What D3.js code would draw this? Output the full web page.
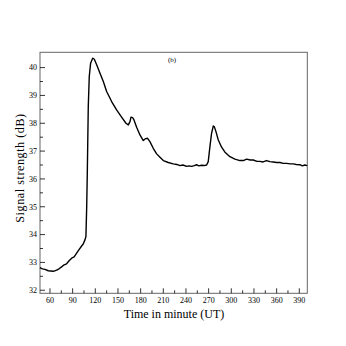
<!DOCTYPE html>
<html>
<head>
<meta charset="utf-8">
<script src="https://cdn.jsdelivr.net/npm/d3@7"></script>
<style>
  body { margin: 0; background: #fff; }
  svg { display: block; }
  text { font-family: "Liberation Serif", "Times New Roman", serif; fill: #000; }
  .tick-label { font-size: 8px; }
  .axis-title { font-size: 12px; }
</style>
</head>
<body>
<svg></svg>
<script>
// time in minutes (UT) and signal strength (dB)
var times = [46.8, 50, 53.4, 57.8, 61, 64.4, 68.8, 72, 75.4, 78, 82, 85, 88.7, 92, 95.3, 98, 101.9, 104, 106.3, 107.6,
  108.6, 109.4, 110.1, 110.7, 112, 113.8, 116.5, 118.7, 121.8, 126.2, 130.6, 135, 141.6, 148.2, 154.8, 160.6, 163.7,
  165.9, 167.2, 169.4, 171.2, 174.7, 179.1, 183.5, 186.6, 189.2, 192.3, 196.7, 201.2, 205.6, 210, 216.6, 223.2, 228,
  232, 236, 240.9, 244, 247.5, 251, 254.1, 257, 260.7, 264, 267.3, 269.5, 271.7, 273.9, 276.1, 277.5, 279.7, 282.8,
  287.2, 291.6, 298.2, 304.8, 311.4, 316, 320.3, 325, 329.1, 334, 337.9, 342, 346.7, 351, 355.5, 360, 364.4, 369,
  373.2, 378, 382, 386, 390.8, 394, 397.4, 400.5];
var signal = [32.81, 32.77, 32.75, 32.7, 32.69, 32.68, 32.72, 32.77, 32.84, 32.9, 32.95, 33.05, 33.15, 33.2, 33.33, 33.44,
  33.59, 33.66, 33.81, 33.93,
  35.0, 36.2, 37.5, 38.6, 39.68, 40.16, 40.34, 40.3, 40.1, 39.8, 39.5, 39.14, 38.78, 38.48, 38.22, 38.0, 37.94,
  38.06, 38.22, 38.2, 38.12, 37.86, 37.58, 37.38, 37.45, 37.46, 37.34, 37.1, 36.9, 36.78, 36.66, 36.59, 36.54, 36.52,
  36.48, 36.5, 36.45, 36.47, 36.45, 36.48, 36.51, 36.47, 36.49, 36.48, 36.5, 36.62, 37.16, 37.64, 37.9, 37.88, 37.7, 37.4,
  37.14, 36.96, 36.8, 36.71, 36.66, 36.66, 36.71, 36.68, 36.68, 36.63, 36.63, 36.61, 36.66, 36.62, 36.61, 36.59, 36.59, 36.56,
  36.56, 36.54, 36.54, 36.52, 36.51, 36.47, 36.5, 36.48];
var xTicks = [60, 90, 120, 150, 180, 210, 240, 270, 300, 330, 360, 390];
var yTicks = [32, 33, 34, 35, 36, 37, 38, 39, 40];
var panelLabel = "(b)";
var xTitle = "Time in minute (UT)";
var yTitle = "Signal strength (dB)";

var svgWidth = 346, svgHeight = 346;
var plot = {left: 40, top: 52.3, right: 307.3, bottom: 293.3};

var svg = d3.select("svg").attr("width", svgWidth).attr("height", svgHeight);

var x = d3.scaleLinear().domain([46.8, 400.6]).range([plot.left, plot.right]);
var y = d3.scaleLinear().domain([31.89, 40.55]).range([plot.bottom, plot.top]);

// frame
svg.append("rect")
    .attr("x", plot.left).attr("y", plot.top)
    .attr("width", plot.right - plot.left).attr("height", plot.bottom - plot.top)
    .attr("fill", "none").attr("stroke", "#666").attr("stroke-width", 1);

// bottom axis, ticks pointing in
var xMinor = d3.range(75, 400, 30);
var xAxis = svg.append("g").attr("transform", "translate(0," + plot.bottom + ")");
xAxis.selectAll(".maj").data(xTicks).enter().append("line")
    .attr("x1", x).attr("x2", x).attr("y1", 0).attr("y2", -5)
    .attr("stroke", "#000").attr("stroke-width", 0.8);
xAxis.selectAll(".min").data(xMinor).enter().append("line")
    .attr("x1", x).attr("x2", x).attr("y1", 0).attr("y2", -3)
    .attr("stroke", "#000").attr("stroke-width", 0.8);
xAxis.selectAll("text").data(xTicks).enter().append("text")
    .attr("class", "tick-label")
    .attr("x", x).attr("y", 9.5)
    .attr("text-anchor", "middle")
    .text(function(d) { return d; });

// left axis
var yMinor = d3.range(32.5, 40.5, 1);
var yAxis = svg.append("g").attr("transform", "translate(" + plot.left + ",0)");
yAxis.selectAll(".maj").data(yTicks).enter().append("line")
    .attr("y1", y).attr("y2", y).attr("x1", 0).attr("x2", 5)
    .attr("stroke", "#000").attr("stroke-width", 0.8);
yAxis.selectAll(".min").data(yMinor).enter().append("line")
    .attr("y1", y).attr("y2", y).attr("x1", 0).attr("x2", 3)
    .attr("stroke", "#000").attr("stroke-width", 0.8);
yAxis.selectAll("text").data(yTicks).enter().append("text")
    .attr("class", "tick-label")
    .attr("x", -3).attr("y", function(d) { return y(d) + 2.8; })
    .attr("text-anchor", "end")
    .text(function(d) { return d; });

// signal line
var pts = times.map(function(t, i) { return [t, signal[i]]; });
var line = d3.line().x(function(d) { return x(d[0]); }).y(function(d) { return y(d[1]); });
svg.append("path")
    .datum(pts)
    .attr("d", line)
    .attr("fill", "none")
    .attr("stroke", "#000")
    .attr("stroke-width", 1.4)
    .attr("stroke-linejoin", "round");

// titles
svg.append("text")
    .attr("class", "axis-title")
    .attr("x", 174).attr("y", 318)
    .attr("text-anchor", "middle")
    .text(xTitle);
svg.append("text")
    .attr("class", "axis-title")
    .attr("transform", "translate(" + [23.5, 168] + ") rotate(-90)")
    .attr("text-anchor", "middle")
    .style("letter-spacing", "0.6px")
    .text(yTitle);
svg.append("text")
    .attr("x", 172).attr("y", 62)
    .attr("text-anchor", "middle")
    .style("font-size", "7px")
    .text(panelLabel);
</script>
</body>
</html>
